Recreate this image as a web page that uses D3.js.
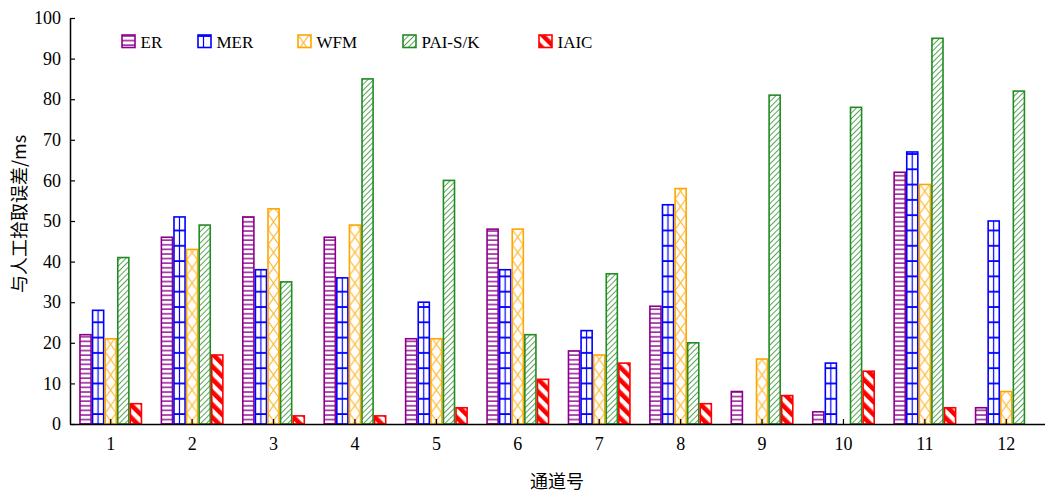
<!DOCTYPE html>
<html>
<head>
<meta charset="utf-8">
<script src="https://cdn.jsdelivr.net/npm/d3@7"></script>
<style>
  html, body { margin: 0; padding: 0; background: #fff; }
  svg { display: block; }
</style>
</head>
<body>
<svg id="chart" width="1045" height="493"></svg>
<script>
// Channel numbers on the x axis
const channels = ["1", "2", "3", "4", "5", "6", "7", "8", "9", "10", "11", "12"];
// Picking error of each method against manual picks (ms)
const seriesNames = ["ER", "MER", "WFM", "PAI-S/K", "IAIC"];
const erValues   = [22, 46, 51, 46, 21, 48, 18, 29, 8, 3, 62, 4];
const merValues  = [28, 51, 38, 36, 30, 38, 23, 54, 0, 15, 67, 50];
const wfmValues  = [21, 43, 53, 49, 21, 48, 17, 58, 16, 0, 59, 8];
const paiValues  = [41, 49, 35, 85, 60, 22, 37, 20, 81, 78, 95, 82];
const iaicValues = [5, 17, 2, 2, 4, 11, 15, 5, 7, 13, 4, 0];
const yTicks = [0, 10, 20, 30, 40, 50, 60, 70, 80, 90, 100];

const seriesValues = [erValues, merValues, wfmValues, paiValues, iaicValues];
const colors = ["#8B008B", "#0000FF", "#FFA500", "#228B22", "#FF0000"];

const svg = d3.select("#chart");
const plotLeft = 70, plotRight = 1047, plotTop = 18, plotBottom = 424;

const x = d3.scaleBand().domain(channels).range([plotLeft, plotRight]).paddingInner(0).paddingOuter(0);
const y = d3.scaleLinear().domain([0, 100]).range([plotBottom, plotTop]);
const groupWidth = x.bandwidth() * 0.755;
const xs = d3.scaleBand().domain(seriesNames).range([0, groupWidth]).paddingInner(0.12);

// Hatch patterns, one per method
const defs = svg.append("defs");

// ER: horizontal ladder lines
const pEr = defs.append("pattern").attr("id", "p0").attr("patternUnits", "userSpaceOnUse")
  .attr("width", 12).attr("height", 4.6);
pEr.append("rect").attr("width", 12).attr("height", 4.6).attr("fill", "#fff");
pEr.append("line").attr("x1", 0).attr("x2", 12).attr("y1", 1).attr("y2", 1)
  .attr("stroke", colors[0]).attr("stroke-width", 1.6).attr("stroke-opacity", 0.85);

// MER: open grid
const pMer = defs.append("pattern").attr("id", "p1").attr("patternUnits", "userSpaceOnUse")
  .attr("width", 11).attr("height", 15.3);
pMer.append("rect").attr("width", 11).attr("height", 15.3).attr("fill", "#fff");
pMer.append("line").attr("x1", 0).attr("x2", 11).attr("y1", 1).attr("y2", 1)
  .attr("stroke", colors[1]).attr("stroke-width", 1.8);
pMer.append("line").attr("x1", 5.5).attr("x2", 5.5).attr("y1", 0).attr("y2", 15.3)
  .attr("stroke", colors[1]).attr("stroke-width", 1.2);

// WFM: crossed diagonals
const pWfm = defs.append("pattern").attr("id", "p2").attr("patternUnits", "userSpaceOnUse")
  .attr("width", 11).attr("height", 15.3);
pWfm.append("rect").attr("width", 11).attr("height", 15.3).attr("fill", "#fff");
pWfm.append("path").attr("d", "M0,0L11,15.3M11,0L0,15.3")
  .attr("stroke", colors[2]).attr("stroke-width", 1.2).attr("stroke-opacity", 0.8).attr("fill", "none");

// PAI-S/K: dense forward diagonals
const pPai = defs.append("pattern").attr("id", "p3").attr("patternUnits", "userSpaceOnUse")
  .attr("width", 4).attr("height", 4).attr("patternTransform", "rotate(45)");
pPai.append("rect").attr("width", 4).attr("height", 4).attr("fill", "#fff");
pPai.append("line").attr("x1", 0).attr("x2", 0).attr("y1", 0).attr("y2", 4)
  .attr("stroke", colors[3]).attr("stroke-width", 1.7).attr("stroke-opacity", 0.9);

// IAIC: wide backward diagonals
const pIaic = defs.append("pattern").attr("id", "p4").attr("patternUnits", "userSpaceOnUse")
  .attr("width", 9).attr("height", 9).attr("patternTransform", "rotate(-45)");
pIaic.append("rect").attr("width", 9).attr("height", 9).attr("fill", "#fff");
pIaic.append("rect").attr("x", 0).attr("y", 0).attr("width", 4.6).attr("height", 9)
  .attr("fill", colors[4]);

// Bars
const rows = [];
channels.forEach((c, i) => {
  seriesNames.forEach((s, k) => {
    rows.push({ channel: c, series: s, k: k, value: seriesValues[k][i] });
  });
});

const bars = svg.append("g").selectAll("g.bar")
  .data(rows.filter(d => d.value > 0))
  .join("g")
  .attr("class", "bar")
  .attr("transform", d => `translate(${x(d.channel) + (x.bandwidth() - groupWidth) / 2 + xs(d.series)},0)`);

bars.append("rect")
  .attr("x", 0)
  .attr("y", d => y(d.value))
  .attr("width", xs.bandwidth())
  .attr("height", d => y(0) - y(d.value))
  .attr("fill", d => `url(#p${d.k})`)
  .attr("stroke", d => colors[d.k])
  .attr("stroke-width", 1.6);

// Axes
const yAxis = d3.axisLeft(y).tickValues(yTicks).tickSizeInner(-5).tickSizeOuter(0).tickPadding(9);
const gy = svg.append("g").attr("transform", `translate(${plotLeft},0)`).call(yAxis);
gy.select(".domain").attr("stroke", "#000").attr("stroke-width", 1.5);
gy.selectAll(".tick line").attr("stroke", "#000").attr("stroke-width", 1.2);
gy.selectAll(".tick text").attr("font-family", "'Liberation Serif', 'Times New Roman', serif")
  .attr("font-size", 18).attr("fill", "#000");

const xAxis = d3.axisBottom(x).tickSizeInner(-5).tickSizeOuter(0).tickPadding(13);
const gx = svg.append("g").attr("transform", `translate(0,${plotBottom})`).call(xAxis);
gx.select(".domain").attr("stroke", "#000").attr("stroke-width", 1.5);
gx.selectAll(".tick line").attr("stroke", "#000").attr("stroke-width", 1.2);
gx.selectAll(".tick text").attr("font-family", "'Liberation Serif', 'Times New Roman', serif")
  .attr("font-size", 18).attr("fill", "#000");

// Axis titles
svg.append("text")
  .attr("x", 557).attr("y", 488)
  .attr("text-anchor", "middle")
  .attr("font-family", "'Noto Sans CJK SC', sans-serif")
  .attr("font-size", 18).attr("fill", "#000")
  .text("通道号");

svg.append("text")
  .attr("transform", "translate(26,214) rotate(-90)")
  .attr("text-anchor", "middle")
  .attr("font-family", "'Noto Sans CJK SC', 'Liberation Serif', serif")
  .attr("font-size", 18).attr("fill", "#000")
  .text("与人工拾取误差/ms");

// Legend
const legendX = [122, 198, 298, 403, 539];
const legend = svg.append("g").selectAll("g")
  .data(seriesNames)
  .join("g")
  .attr("transform", (d, i) => `translate(${legendX[i]},35)`);
legend.append("rect")
  .attr("width", 13).attr("height", 12.5)
  .attr("fill", (d, i) => `url(#p${i})`)
  .attr("stroke", (d, i) => colors[i])
  .attr("stroke-width", 1.6);
legend.append("text")
  .attr("x", 18.5).attr("y", 12.8)
  .attr("font-family", "'Liberation Serif', 'Times New Roman', serif")
  .attr("font-size", 17).attr("fill", "#000")
  .text(d => d);
</script>
</body>
</html>
